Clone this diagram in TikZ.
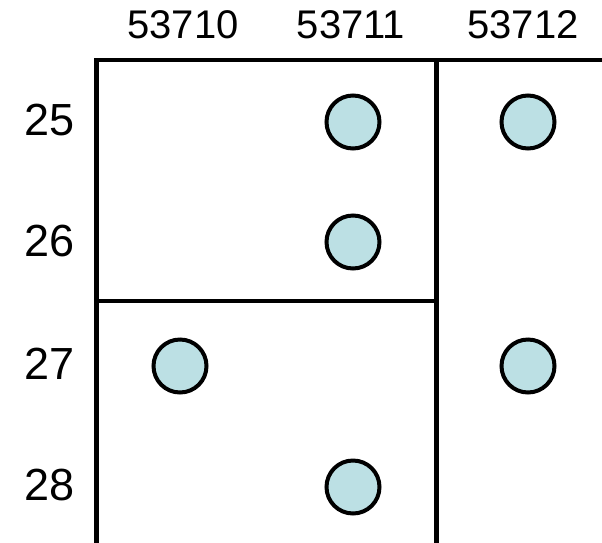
\documentclass[tikz,border=0pt]{standalone}
\usepackage{fontspec}
\setmainfont{Liberation Sans}
\definecolor{dotfill}{HTML}{BCE0E4}
\begin{document}
\begin{tikzpicture}[x=1pt,y=-1pt,
  grid/.style={line width=4.5pt,black},
  dot/.style={circle,draw=black,line width=4pt,fill=dotfill,minimum size=53pt,inner sep=0pt},
  collab/.style={font=\fontsize{40}{45}\selectfont,anchor=base},
  rowlab/.style={font=\fontsize{45}{50}\selectfont,anchor=center}]
\useasboundingbox (0,0) rectangle (602,542);
\clip (0,0) rectangle (602,542);
% column labels
\node[collab] (c0) at (183,38) {53710};
\node[collab] (c1) at (351,38) {53711};
\node[collab] (c2) at (523,38) {53712};
% row labels
\node[rowlab] (r25) at (50,120) {25};
\node[rowlab] (r26) at (50,241) {26};
\node[rowlab] (r27) at (50,364) {27};
\node[rowlab] (r28) at (50,485) {28};
% grid
\coordinate (tl) at (96.5,60);
\coordinate (tr) at (610,60);
\coordinate (bl) at (96.5,560);
\coordinate (mt) at (436.5,60);
\coordinate (mb) at (436.5,560);
\coordinate (ml) at (96.5,301);
\coordinate (mm) at (436.5,301);
\draw[grid] (bl) -- (tl) -- (tr);
\draw[grid] (mt) -- (mb);
\draw[grid] (ml) -- (mm);
\coordinate (bbl) at (96.5,545.5);
\coordinate (bbr) at (610,545.5);
\draw[grid] (bbl) -- (bbr);
% dots
\node[dot] (d1) at (353,122) {};
\node[dot] (d2) at (528,122) {};
\node[dot] (d3) at (353,242) {};
\node[dot] (d4) at (180,366) {};
\node[dot] (d5) at (528,366) {};
\node[dot] (d6) at (353,487) {};
\end{tikzpicture}
\end{document}
